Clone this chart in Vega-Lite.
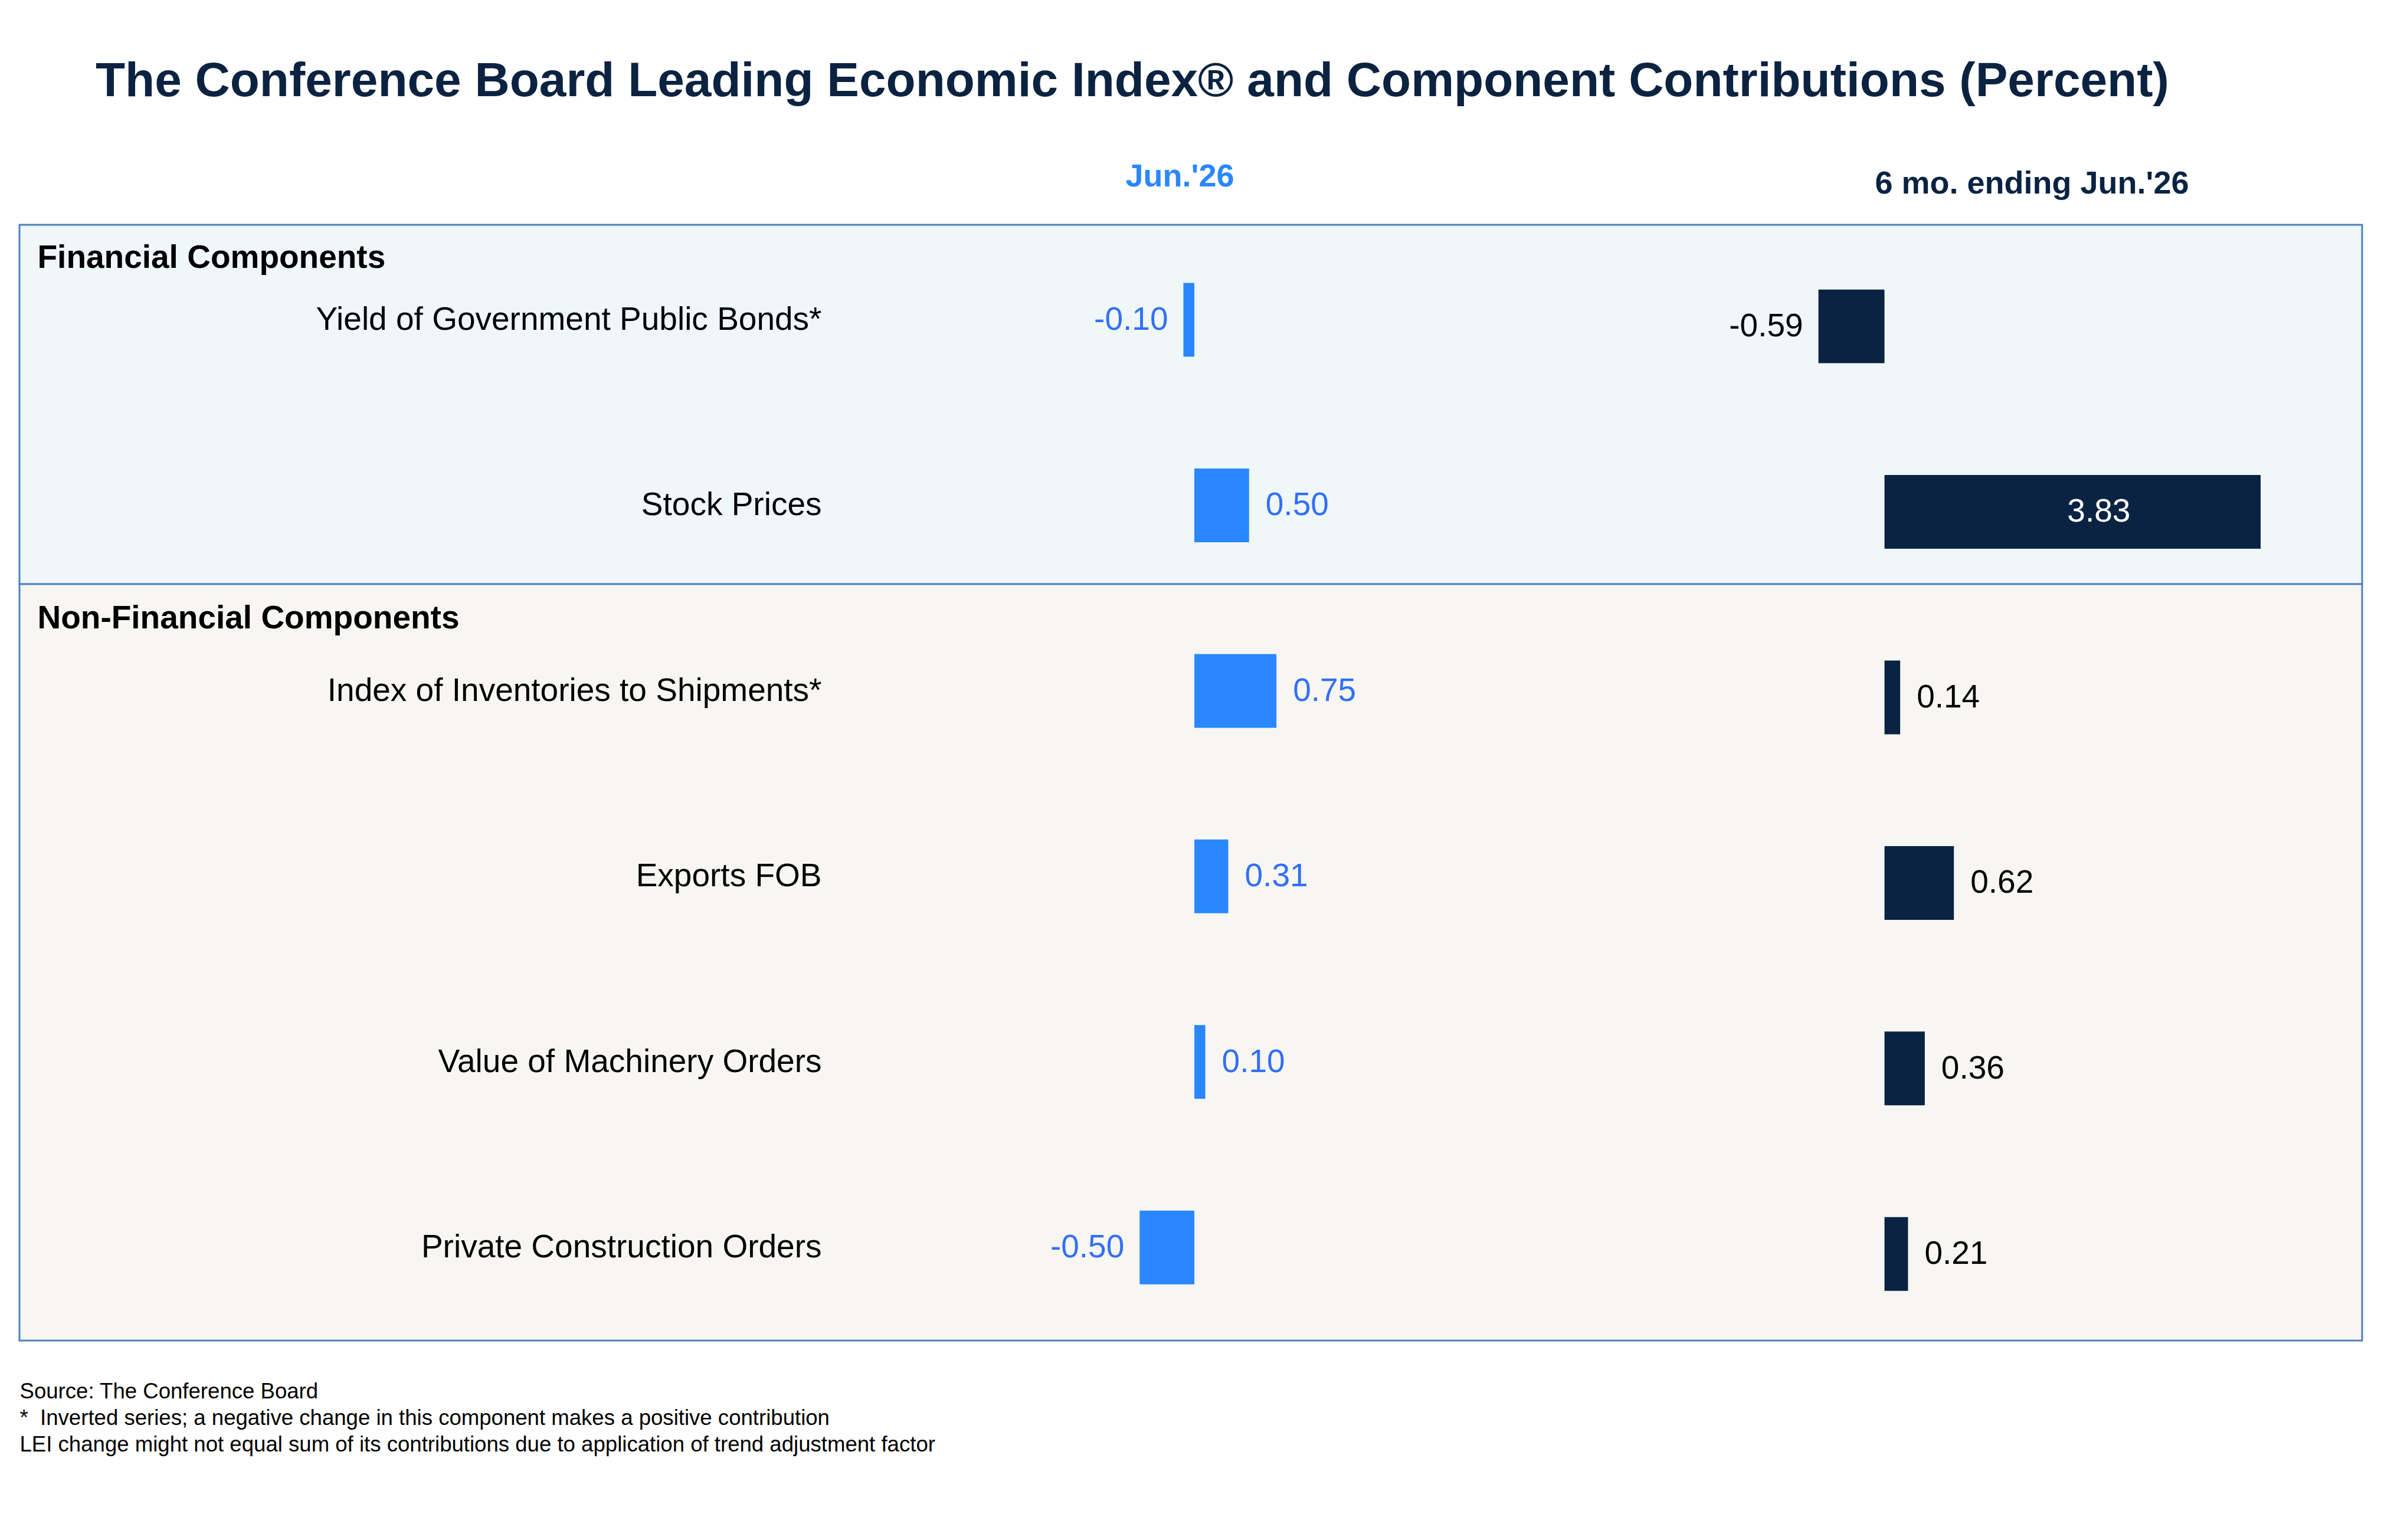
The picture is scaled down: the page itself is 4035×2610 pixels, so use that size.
{
  "$schema": "https://vega.github.io/schema/vega-lite/v6.json",
  "background": "white",
  "padding": {"left": 31, "top": 96, "right": 34, "bottom": 20},
  "title": {
    "text": "The Conference Board Leading Economic Index® and Component Contributions (Percent)",
    "anchor": "start",
    "frame": "group",
    "dx": 129,
    "fontSize": 82,
    "fontWeight": "bold",
    "color": "#0b2341",
    "font": "Liberation Sans",
    "offset": 91
  },
  "config": {
    "font": "Liberation Sans",
    "view": {"stroke": null},
    "axis": {"grid": false},
    "locale": {"number": {"decimal": ".", "thousands": ",", "grouping": [3], "currency": ["$", ""], "minus": "-"}}
  },
  "datasets": {
    "lei": [
      {"section": "Financial Components", "component": "Yield of Government Public Bonds*", "jun": -0.10, "six": -0.59},
      {"section": "Financial Components", "component": "Stock Prices", "jun": 0.50, "six": 3.83},
      {"section": "Non-Financial Components", "component": "Index of Inventories to Shipments*", "jun": 0.75, "six": 0.14},
      {"section": "Non-Financial Components", "component": "Exports FOB", "jun": 0.31, "six": 0.62},
      {"section": "Non-Financial Components", "component": "Value of Machinery Orders", "jun": 0.10, "six": 0.36},
      {"section": "Non-Financial Components", "component": "Private Construction Orders", "jun": -0.50, "six": 0.21}
    ]
  },
  "spacing": 0,
  "bounds": "flush",
  "vconcat": [
    {
      "width": 3970,
      "height": 609,
      "view": {"fill": "#eff7f9", "stroke": "#4f81bd", "strokeWidth": 3},
      "data": {"name": "lei"},
      "transform": [{"filter": {"field": "section", "equal": "Financial Components"}}],
      "layer": [
        {
          "encoding": {
            "y": {
              "field": "component", "type": "nominal", "sort": null,
              "scale": {"paddingInner": 0.6024, "paddingOuter": 0.27, "align": 0.581},
              "axis": {
                "orient": "left", "offset": -1359, "domain": false, "ticks": false, "labelPadding": 0,
                "labelFontSize": 55, "labelColor": "black", "labelFont": "Liberation Sans", "labelLimit": 2000,
                "title": "Financial Components", "titleAngle": 0, "titleAlign": "left", "titleBaseline": "alphabetic",
                "titleX": -1329, "titleY": 72, "titleFontSize": 55, "titleFontWeight": "bold", "titleColor": "black", "titleFont": "Liberation Sans"
              }
            }
          },
          "layer": [
            {
              "mark": {"type": "bar", "color": "#2a87ff"},
              "encoding": {
                "x": {
                  "field": "jun", "type": "quantitative",
                  "scale": {"domain": [-10.733, 10.668], "nice": false, "zero": false},
                  "axis": {
                    "orient": "top", "labels": false, "ticks": false, "domain": false, "grid": false,
                    "title": "Jun.'26", "titleColor": "#2a87ff", "titleFontSize": 54, "titleFontWeight": "bold", "titleFont": "Liberation Sans",
                    "titleX": 1966, "titleY": -66, "titleAlign": "center", "titleBaseline": "alphabetic"
                  }
                }
              }
            },
            {
              "transform": [{"filter": {"field": "jun", "gte": 0}}],
              "mark": {"type": "text", "align": "left", "dx": 28, "color": "#336ff6", "fontSize": 55, "font": "Liberation Sans"},
              "encoding": {
                "x": {"field": "jun", "type": "quantitative"},
                "text": {"field": "jun", "type": "quantitative", "format": ".2f"}
              }
            },
            {
              "transform": [{"filter": {"field": "jun", "lt": 0}}],
              "mark": {"type": "text", "align": "right", "dx": -26, "color": "#336ff6", "fontSize": 55, "font": "Liberation Sans"},
              "encoding": {
                "x": {"field": "jun", "type": "quantitative"},
                "text": {"field": "jun", "type": "quantitative", "format": ".2f"}
              }
            },
            {
              "mark": {"type": "rule", "color": "black", "strokeWidth": 2.5},
              "encoding": {"x": {"datum": 0}}
            }
          ]
        },
        {
          "encoding": {
            "y": {
              "field": "component", "type": "nominal", "sort": null,
              "scale": {"paddingInner": 0.6024, "paddingOuter": 0.27, "align": 0.646},
              "axis": null
            }
          },
          "layer": [
            {
              "mark": {"type": "bar", "color": "#0a2342"},
              "encoding": {
                "x": {
                  "field": "six", "type": "quantitative",
                  "scale": {"domain": [-16.66, 3.36], "range": [0, 3798], "clamp": true, "nice": false, "zero": false},
                  "axis": {
                    "orient": "top", "labels": false, "ticks": false, "domain": false, "grid": false,
                    "title": "6 mo. ending Jun.'26", "titleColor": "#0a2342", "titleFontSize": 54, "titleFontWeight": "bold", "titleFont": "Liberation Sans",
                    "titleX": 3410, "titleY": -54, "titleAlign": "center", "titleBaseline": "alphabetic"
                  }
                }
              }
            },
            {
              "transform": [{"filter": {"field": "six", "gt": 3}}],
              "mark": {"type": "text", "align": "center", "color": "white", "fontSize": 55, "font": "Liberation Sans"},
              "encoding": {
                "x": {"field": "six", "type": "quantitative", "stack": "zero", "bandPosition": 0.5},
                "text": {"field": "six", "type": "quantitative", "format": ".2f"}
              }
            },
            {
              "transform": [{"filter": {"field": "six", "lt": 0}}],
              "mark": {"type": "text", "align": "right", "dx": -26, "color": "black", "fontSize": 55, "font": "Liberation Sans"},
              "encoding": {
                "x": {"field": "six", "type": "quantitative"},
                "text": {"field": "six", "type": "quantitative", "format": ".2f"}
              }
            },
            {
              "mark": {"type": "rule", "color": "black", "strokeWidth": 2.5},
              "encoding": {"x": {"datum": 0}}
            }
          ]
        }
      ],
      "resolve": {"scale": {"x": "independent", "y": "independent"}, "axis": {"x": "independent", "y": "independent"}}
    },
    {
      "width": 3970,
      "height": 1282,
      "view": {"fill": "#f7f6f2", "stroke": "#4f81bd", "strokeWidth": 3},
      "data": {"name": "lei"},
      "transform": [{"filter": {"field": "section", "equal": "Non-Financial Components"}}],
      "layer": [
        {
          "encoding": {
            "y": {
              "field": "component", "type": "nominal", "sort": null,
              "scale": {"paddingInner": 0.6024, "paddingOuter": 0.34, "align": 0.554},
              "axis": {
                "orient": "left", "offset": -1359, "domain": false, "ticks": false, "labelPadding": 0,
                "labelFontSize": 55, "labelColor": "black", "labelFont": "Liberation Sans", "labelLimit": 2000,
                "title": "Non-Financial Components", "titleAngle": 0, "titleAlign": "left", "titleBaseline": "alphabetic",
                "titleX": -1329, "titleY": 74, "titleFontSize": 55, "titleFontWeight": "bold", "titleColor": "black", "titleFont": "Liberation Sans"
              }
            }
          },
          "layer": [
            {
              "mark": {"type": "bar", "color": "#2a87ff"},
              "encoding": {
                "x": {
                  "field": "jun", "type": "quantitative",
                  "scale": {"domain": [-10.733, 10.668], "nice": false, "zero": false},
                  "axis": {
                    "orient": "bottom", "labels": false, "ticks": false, "domain": false, "grid": false,
                    "title": [
                      "Source: The Conference Board",
                      "*\u00a0 Inverted series; a negative change in this component makes a positive contribution",
                      "LEI change might not equal sum of its contributions due to application of trend adjustment factor"
                    ],
                    "titleColor": "black", "titleFontSize": 36.6, "titleFontWeight": "normal", "titleFont": "Liberation Sans",
                    "titleX": 0, "titleY": 97, "titleAlign": "left", "titleBaseline": "alphabetic", "titleLineHeight": 45
                  }
                }
              }
            },
            {
              "transform": [{"filter": {"field": "jun", "gte": 0}}],
              "mark": {"type": "text", "align": "left", "dx": 28, "color": "#336ff6", "fontSize": 55, "font": "Liberation Sans"},
              "encoding": {
                "x": {"field": "jun", "type": "quantitative"},
                "text": {"field": "jun", "type": "quantitative", "format": ".2f"}
              }
            },
            {
              "transform": [{"filter": {"field": "jun", "lt": 0}}],
              "mark": {"type": "text", "align": "right", "dx": -26, "color": "#336ff6", "fontSize": 55, "font": "Liberation Sans"},
              "encoding": {
                "x": {"field": "jun", "type": "quantitative"},
                "text": {"field": "jun", "type": "quantitative", "format": ".2f"}
              }
            },
            {
              "mark": {"type": "rule", "color": "black", "strokeWidth": 2.5},
              "encoding": {"x": {"datum": 0}}
            }
          ]
        },
        {
          "encoding": {
            "y": {
              "field": "component", "type": "nominal", "sort": null,
              "scale": {"paddingInner": 0.6024, "paddingOuter": 0.34, "align": 0.606},
              "axis": null
            }
          },
          "layer": [
            {
              "mark": {"type": "bar", "color": "#0a2342"},
              "encoding": {
                "x": {
                  "field": "six", "type": "quantitative",
                  "scale": {"domain": [-16.66, 3.36], "range": [0, 3798], "clamp": true, "nice": false, "zero": false},
                  "axis": null
                }
              }
            },
            {
              "transform": [{"filter": {"field": "six", "gte": 0}}],
              "mark": {"type": "text", "align": "left", "dx": 28, "color": "black", "fontSize": 55, "font": "Liberation Sans"},
              "encoding": {
                "x": {"field": "six", "type": "quantitative"},
                "text": {"field": "six", "type": "quantitative", "format": ".2f"}
              }
            },
            {
              "mark": {"type": "rule", "color": "black", "strokeWidth": 2.5},
              "encoding": {"x": {"datum": 0}}
            }
          ]
        }
      ],
      "resolve": {"scale": {"x": "independent", "y": "independent"}, "axis": {"x": "independent", "y": "independent"}}
    }
  ]
}
